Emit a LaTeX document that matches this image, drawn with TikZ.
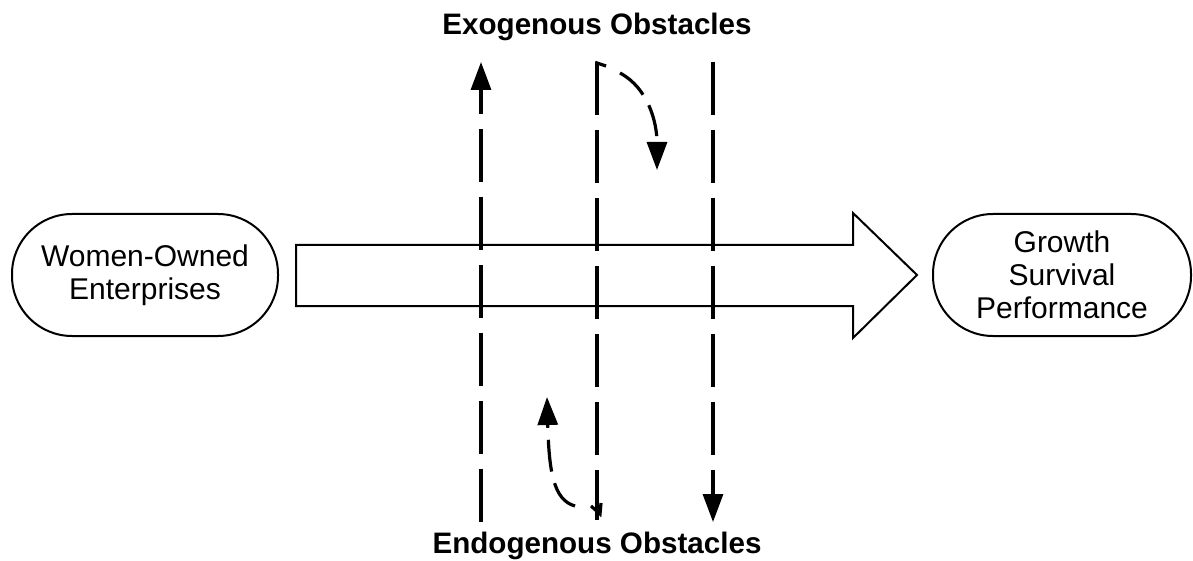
\documentclass[tikz,border=0pt]{standalone}
\usepackage{fontspec}
\setmainfont{Liberation Sans}
\usetikzlibrary{arrows.meta,positioning}

\tikzset{
  terminal/.style={draw, line width=1pt, rounded corners=30pt, minimum width=133pt,
    minimum height=61pt, align=center, font=\fontsize{15}{16.5}\selectfont},
  obstacle/.style={line width=1.6pt, dash pattern=on 26.5pt off 7.5pt},
  curvy/.style={line width=1.6pt, dash pattern=on 16pt off 6pt},
  tip/.style={-{Triangle[width=10pt,length=14pt]}},
  heading/.style={font=\bfseries\fontsize{14.8}{18}\selectfont}
}

\begin{document}
\begin{tikzpicture}[x=0.5pt,y=-0.5pt]
\useasboundingbox (0,0) rectangle (1193,561);
% Extremidades
\node[terminal] (woe) at (145,275) {Women-Owned\\Enterprises};
\node[terminal, minimum width=129pt] (gsp) at (1062,275) {Growth\\Survival\\Performance};
% Titulos
\node[heading] (exo) at (597,27) {Exogenous Obstacles};
\node[heading] (endo) at (597,546) {Endogenous Obstacles};
% Seta larga
\draw[line width=1pt] (296,245) -- (853,245) -- (853,213) -- (917,275) -- (853,338)
  -- (853,306) -- (296,306) -- cycle;
% Linhas tracejadas
\coordinate (ut) at (481,62);
\coordinate (ub) at (481,522);
\coordinate (mt) at (597,62);
\coordinate (mb) at (597,520);
\coordinate (dt) at (713,62);
\coordinate (db) at (713,522);
\draw[obstacle,tip] (ub) -- (ut); % para cima
\draw[obstacle] (mt) -- (mb);
\draw[line width=1.6pt] (597,72) -- (597,63) -- (606,66);
\draw[line width=1.6pt] (591,506) -- (600,514) -- (601,503);
\draw[obstacle,tip] (dt) -- (db); % para baixo
% Setas curvas
\coordinate (as) at (620,73);
\coordinate (ae) at (657,170);
\coordinate (bs) at (575,506);
\coordinate (be) at (547,397);
\draw[curvy,tip] (as) .. controls (648,88) and (657,122) .. (ae);
\draw[curvy,tip] (bs) .. controls (553,500) and (549,470) .. (be);
\end{tikzpicture}
\end{document}
